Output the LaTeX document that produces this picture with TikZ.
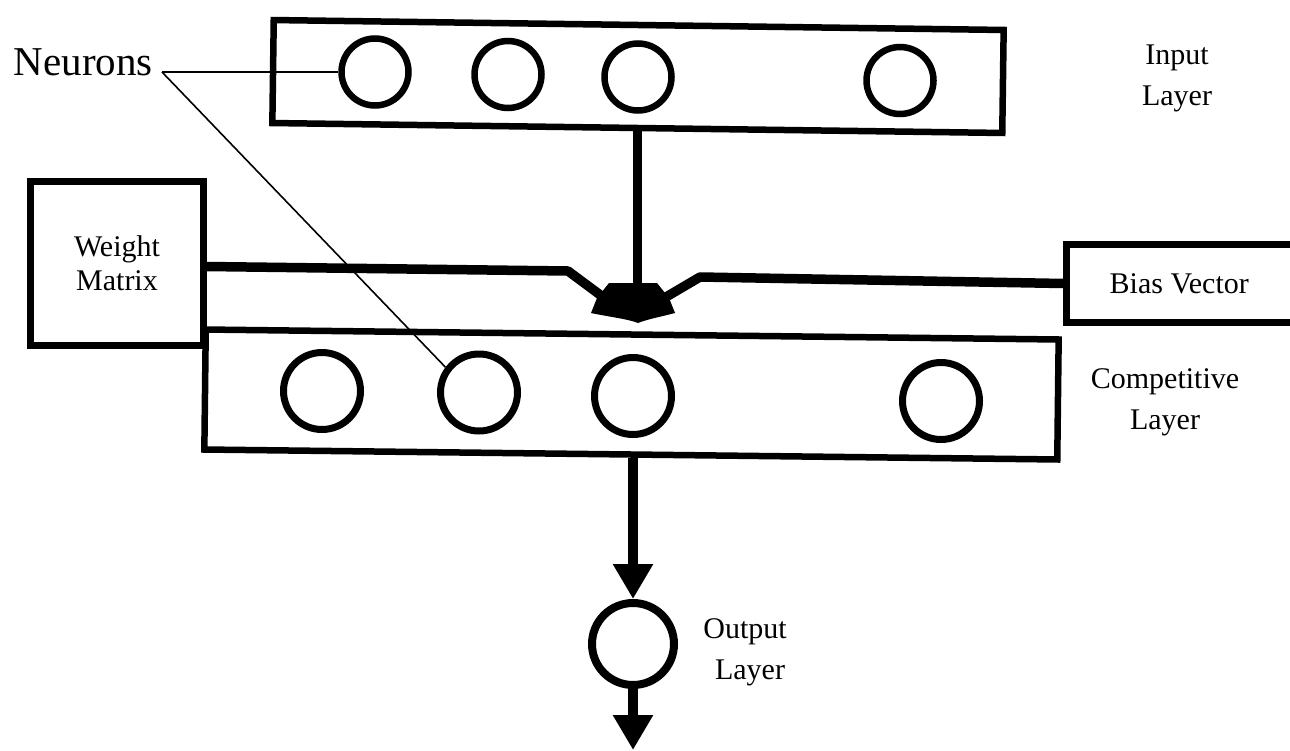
\documentclass[tikz,border=0pt]{standalone}
\usepackage{fontspec}
\setmainfont{Liberation Serif}
\usetikzlibrary{arrows.meta}
\begin{document}
\begin{tikzpicture}[x=1pt,y=-1pt,
  box/.style={draw,line width=6.5pt,inner sep=0pt,rectangle,align=center,font=\fontsize{30}{34}\selectfont},
  neuron/.style={draw,circle,line width=6.5pt,minimum size=67pt,inner sep=0pt},
  cneuron/.style={neuron,line width=7pt,minimum size=77pt},
  lbl/.style={align=center,font=\fontsize{30}{41}\selectfont},
  wline/.style={line width=9.5pt,line join=round},
  arr/.style={line width=10pt,-{Triangle[length=35pt,width=38pt]}},
  lead/.style={line width=1.6pt}]
\clip (0,0) rectangle (1290,750);
\fill[white] (0,0) rectangle (1290,750);
% layers
\node[box,rotate=-0.78,minimum width=730pt,minimum height=103pt] (inl) at (638,76.5) {};
\node[box,rotate=-0.67,minimum width=853pt,minimum height=120pt] (comp) at (631.5,394.5) {};
\node[box,minimum width=173pt,minimum height=164pt] (wm) at (117,263.5) {Weight\\Matrix};
\node[box,minimum width=233.5pt,minimum height=78pt] (bias) at (1183.25,283.5) {\hspace*{-8pt}Bias Vector};
% neurons
\node[neuron] (i1) at (375,72) {};
\node[neuron] (i2) at (508,74.5) {};
\node[neuron] (i3) at (638,77) {};
\node[neuron] (i4) at (900,80.5) {};
\node[cneuron] (c1) at (322,391) {};
\node[cneuron] (c2) at (479,392.5) {};
\node[cneuron] (c3) at (633,396) {};
\node[cneuron] (c4) at (941,401) {};
\node[draw,circle,line width=8pt,minimum size=82pt,inner sep=0pt] (out) at (633,644) {};
% labels
\node[lbl] (linl) at (1177,78) {Input\\Layer};
\node[lbl] (lcomp) at (1165,402) {Competitive\\Layer};
\node[lbl] (lout) at (745,652) {Output\\\hspace*{10pt}Layer};
\node[anchor=base east,inner sep=0pt,font=\fontsize{41}{48}\selectfont] (nlab) at (153,75) {Neurons};
% leaders
\coordinate (nl) at (162,72);
\draw[lead] (nl) -- (i1.west);
\draw[lead] (nl) -- (c2.143);
% junction
\coordinate (jtop) at (637,286);
\coordinate (jl) at (603,297);
\coordinate (jr) at (666,297);
\coordinate (wbend) at (568,271);
\coordinate (bbend) at (700,277);
\draw[line width=9pt] (jtop |- inl.south) -- (jtop);
\draw[wline] ([yshift=-3pt]wm.east) -- (wbend) -- (jl);
\draw[wline] (bias.west) -- (bbend) -- (jr);
\fill (609,283) -- (657,283) -- (669,298) -- (675,313)
  .. controls (660,317) and (648,319) .. (638,323)
  .. controls (628,319) and (610,317) .. (591,313) -- (597,298) -- cycle;
% output arrows
\coordinate (oend) at (633,750);
\draw[arr] (out |- comp.south) -- (out.north);
\draw[arr] (out.south) -- (oend);
\end{tikzpicture}
\end{document}
